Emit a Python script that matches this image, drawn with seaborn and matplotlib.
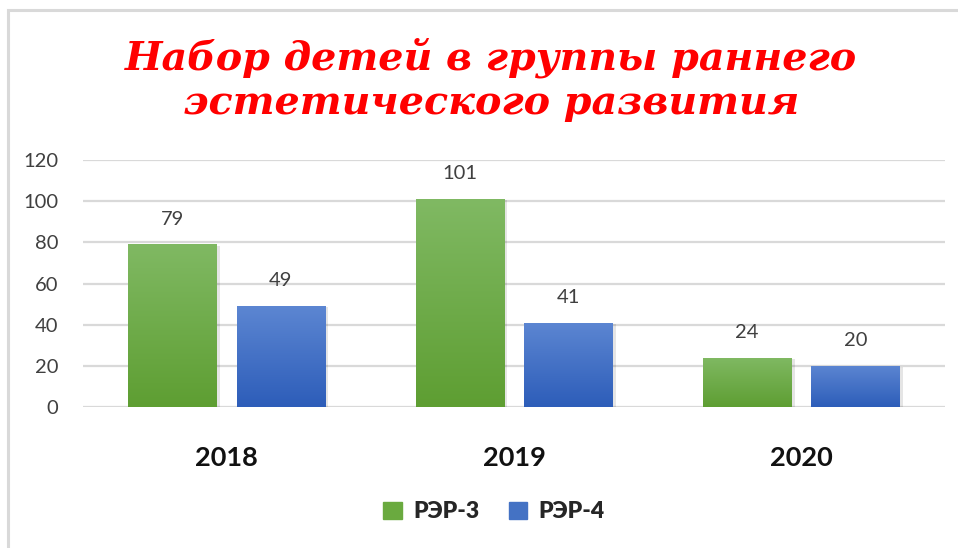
import numpy as np
import pandas as pd
import matplotlib
matplotlib.use("Agg")
import matplotlib.pyplot as plt
import seaborn as sns
from matplotlib.colors import LinearSegmentedColormap
from matplotlib.patches import Rectangle

# Data
years = ["2018", "2019", "2020"]
rer3 = [79, 101, 24]
rer4 = [49, 41, 20]
series_names = ["РЭР-3", "РЭР-4"]
y_ticks = [0, 20, 40, 60, 80, 100, 120]
title_text = "Набор детей в группы раннего\nэстетического развития"

# Colors (top, bottom) for gradient fill
green_top, green_bottom = "#80b963", "#5e9e32"
blue_top, blue_bottom = "#5c86d2", "#2d5db9"
legend_colors = ["#6aaa3f", "#4472c4"]

sns.set_theme(style="white")
plt.rcParams['font.family'] = ['Lato', 'DejaVu Sans']

df = pd.DataFrame({
    "year": years * 2,
    "value": rer3 + rer4,
    "series": [series_names[0]] * 3 + [series_names[1]] * 3,
})

fig = plt.figure(figsize=(9.58, 5.48), dpi=100)
ax = fig.add_axes([83 / 958, 1 - 407 / 548, (945 - 83) / 958, (407 - 160) / 548])

sns.barplot(data=df, x="year", y="value", hue="series", order=years,
            hue_order=series_names, palette=legend_colors, width=0.753,
            gap=0.185, ax=ax, legend=False, zorder=3)

ax.set_ylim(0, 120)
ax.set_yticks(y_ticks)
ax.set_xlim(-0.5, 2.5)
ax.grid(axis="y", color="#d9d9d9", linewidth=1.6, zorder=0)
ax.set_axisbelow(True)
for s in ax.spines.values():
    s.set_visible(False)
ax.tick_params(axis="y", length=0, labelsize=14.5, pad=18, labelcolor="#404040")
ax.tick_params(axis="x", length=0, labelsize=19.5, pad=28)
for lab in ax.get_xticklabels():
    lab.set_fontweight("bold")
    lab.set_color("#111111")
ax.set_xlabel("")
ax.set_ylabel("")

# gradient fill for bars
cmaps = [LinearSegmentedColormap.from_list("g", [green_bottom, green_top]),
         LinearSegmentedColormap.from_list("b", [blue_bottom, blue_top])]
grad = np.linspace(0, 1, 256).reshape(-1, 1)
for container, cmap in zip(ax.containers, cmaps):
    for bar in container:
        x0, w, h = bar.get_x(), bar.get_width(), bar.get_height()
        # soft shadow
        ax.add_patch(Rectangle((x0 + 0.012, 0), w, h - 0.6, color="#000000",
                               alpha=0.10, zorder=2, linewidth=0))
        bar.set_alpha(0)
        im = ax.imshow(grad, extent=[x0, x0 + w, 0, h], origin="lower",
                       cmap=cmap, aspect="auto", zorder=3.5)
        im.set_clip_path(Rectangle((x0, 0), w, h, transform=ax.transData))
    ax.bar_label(container, labels=[str(int(b.get_height())) for b in container],
                 padding=12, fontsize=14.5, color="#404040", zorder=5)
ax.set_xlim(-0.5, 2.5)
ax.set_ylim(0, 120)

# title
fig.text(491 / 958, 1 - 80 / 548, title_text, ha="center", va="center", color="#ff0000",
         fontsize=28.5, fontweight="bold", fontstyle="italic",
         family=["DejaVu Serif"], linespacing=1.2)

# legend
handles = [Rectangle((0, 0), 1, 1, color=c) for c in legend_colors]
fig.legend(handles, series_names, loc="center", bbox_to_anchor=(494 / 958, 1 - 512 / 548),
           ncol=2, frameon=False, handlelength=0.8, handleheight=0.8,
           handletextpad=0.5, columnspacing=1.3,
           prop={"family": ["Lato"], "weight": "heavy", "size": 16.5})

# chart frame
fig.patches.append(Rectangle((8 / 958, -0.1), 1.2, 1 - 10 / 548 + 0.1,
                             transform=fig.transFigure, fill=False,
                             edgecolor="#d9d9d9", linewidth=2.2, zorder=0))

fig.savefig("out.png", dpi=100)
